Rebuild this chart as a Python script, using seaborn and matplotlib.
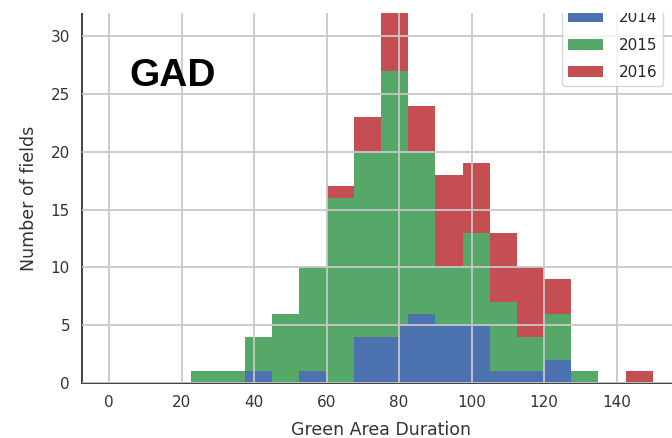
import matplotlib
matplotlib.use("Agg")
import matplotlib.pyplot as plt
from matplotlib.patches import Patch, Rectangle
import pandas as pd
import seaborn as sns

# Histogram bins of Green Area Duration (the 75-82.5 bin is split at 80)
bin_edges = [0, 7.5, 15, 22.5, 30, 37.5, 45, 52.5, 60, 67.5, 75, 80, 82.5,
             90, 97.5, 105, 112.5, 120, 127.5, 135, 142.5, 150]

years = ["2014", "2015", "2016"]
year_colors = ["#4C72B0", "#55A868", "#C44E52"]

# Number of fields per bin and season
fields_2014 = [0, 0, 0, 0, 0, 1, 0, 1, 0, 4, 4, 5, 6, 5, 5, 1, 1, 2, 0, 0, 0]
fields_2015 = [0, 0, 0, 1, 1, 3, 6, 9, 16, 16, 23, 22, 14, 5, 8, 6, 3, 4, 1, 0, 0]
fields_2016 = [0, 0, 0, 0, 0, 0, 0, 0, 1, 3, 6, 6, 4, 8, 6, 6, 6, 3, 0, 0, 1]

x_ticks = [0, 20, 40, 60, 80, 100, 120, 140]
y_ticks = [0, 5, 10, 15, 20, 25, 30]

centers = [(a + b) / 2 for a, b in zip(bin_edges[:-1], bin_edges[1:])]
rows = []
for year, counts in zip(years, [fields_2014, fields_2015, fields_2016]):
    for c, n in zip(centers, counts):
        rows.append({"gad": c, "fields": n, "year": year})
df = pd.DataFrame(rows)

sns.set_style("white")
plt.rcParams["font.family"] = ["DejaVu Sans"]

fig = plt.figure(figsize=(6.72, 4.38), dpi=100)
ax = fig.add_axes([82 / 672, 55 / 438, 598 / 672, 370 / 438])

palette = dict(zip(years, year_colors))
# seaborn stacks the first hue level on top, so pass the order reversed
sns.histplot(data=df, x="gad", weights="fields", hue="year",
             hue_order=years[::-1], palette=palette, bins=bin_edges,
             multiple="stack", element="step", alpha=1, linewidth=0,
             legend=False, ax=ax)

ax.set_xlim(-7.5, 157.5)
ax.set_ylim(0, 32)
ax.set_xticks(x_ticks)
ax.set_yticks(y_ticks)
ax.set_xlabel("Green Area Duration", fontsize=12.5, color="#333333",
              labelpad=8)
ax.set_ylabel("Number of fields", fontsize=12.5, color="#333333",
              labelpad=9)

ax.grid(True, color="#c8c8c8", linewidth=1.3)
ax.set_axisbelow(False)
for side in ["top", "right"]:
    ax.spines[side].set_visible(False)
for side in ["left", "bottom"]:
    ax.spines[side].set_color("#333333")
    ax.spines[side].set_linewidth(1.3)
ax.tick_params(axis="both", direction="out", length=3.6, width=1, pad=5,
               color="#333333", labelcolor="#333333", labelsize=11)

ax.text(5.5, 25.7, "GAD", fontsize=28, fontweight="bold",
        family=["Liberation Sans", "DejaVu Sans"], color="black",
        va="baseline", ha="left")

handles = [Patch(facecolor=c, edgecolor="none") for c in year_colors]
ax.legend(handles, years, loc="lower left",
          bbox_to_anchor=(562 / 672, 1 - 86 / 438),
          bbox_transform=fig.transFigure, borderaxespad=0, fontsize=11,
          handlelength=2.3, handletextpad=1.0, labelspacing=0.8,
          frameon=True, framealpha=0.8, edgecolor="#cccccc")

# Blank top margin strip, drawn over everything above the plot area
fig.patches.append(Rectangle((0, 1 - 13 / 438), 1, 13 / 438,
                             transform=fig.transFigure, facecolor="white",
                             edgecolor="none", zorder=10))

fig.savefig("out.png", dpi=100)
